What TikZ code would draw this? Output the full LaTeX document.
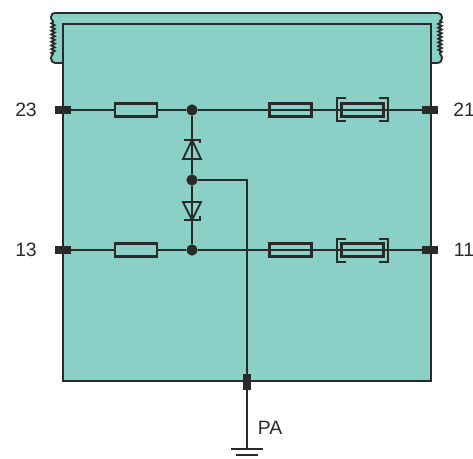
\documentclass[tikz,border=0pt]{standalone}
\usepackage{fontspec}
\setmainfont{Liberation Sans}
\usetikzlibrary{decorations.pathmorphing}
\definecolor{boxteal}{HTML}{8AD0C6}
\definecolor{wire}{HTML}{2A2A2A}
\tikzset{
	line/.style={draw=wire,line width=1.05pt},
	part/.style={draw=wire,line width=1.3pt,minimum width=0.84cm,minimum height=0.26cm,inner sep=0pt},
	term/.style={fill=wire,minimum width=0.32cm,minimum height=0.16cm,inner sep=0pt},
	junct/.style={circle,fill=wire,minimum size=0.225cm,inner sep=0pt},
	lab/.style={font=\fontsize{11pt}{12pt}\selectfont,text=wire,inner sep=0pt},
	coil/.style={decorate,decoration={snake,segment length=2.1pt,amplitude=1pt}}
}
\begin{document}
\begin{tikzpicture}[x=0.02cm,y=-0.02cm]
	\useasboundingbox (0,0) rectangle (473,459);
	
	% top band with the two coils
	\filldraw[line,fill=boxteal] (63,63) -- (56,63) .. controls (52,63) and (51,60) .. (51,58)
		.. controls (51,56) and (52,55) .. (53,54)
		decorate[coil] { -- (53,21) }
		.. controls (51,20) and (51,18) .. (51,17) .. controls (51,14) and (53,13) .. (55,13)
		-- (438,13) .. controls (440,13) and (442,15) .. (442,17) .. controls (442,18) and (442,20) .. (440,21)
		decorate[coil] { -- (440,54) }
		.. controls (441,55) and (442,56) .. (442,58) .. controls (442,60) and (441,63) .. (437,63)
		-- (431,63);
	
	% housing
	\filldraw[line,fill=boxteal] (63,24) rectangle (431,381);
	\draw[line,line width=1.5pt] (63,60) -- (63,80);
	\draw[line,line width=1.5pt] (431,58) -- (431,80);
	
	% terminals
	\node[term] (t23) at (63,110) {};
	\node[term] (t21) at (430,110) {};
	\node[term] (t13) at (63,250) {};
	\node[term] (t11) at (430,250) {};
	\node[term,minimum width=0.16cm,minimum height=0.32cm] (tpa) at (247,382) {};
	
	% junctions
	\node[junct] (j23) at (192,110) {};
	\node[junct] (jmid) at (192,180) {};
	\node[junct] (j13) at (192,250) {};
	
	% resistors and fuses
	\node[part] (r23) at (136,110) {};
	\node[part] (r13) at (136,250) {};
	\node[part] (f23) at (290.5,110) {};
	\node[part] (f13) at (290.5,250) {};
	\node[part] (g23) at (362.5,110) {};
	\node[part] (g13) at (362.5,250) {};
	
	% brackets
	\draw[line] (346,98) -- (337,98) -- (337,121) -- (346,121);
	\draw[line] (379,98) -- (388,98) -- (388,121) -- (379,121);
	\draw[line] (346,239) -- (337,239) -- (337,262) -- (346,262);
	\draw[line] (379,239) -- (388,239) -- (388,262) -- (379,262);
	
	% wires
	\draw[line] (t23) -- (r23) -- (j23) -- (t21);
	\draw[line] (t13) -- (r13) -- (j13) -- (t11);
	\draw[line] (j23) -- (jmid) -- (j13);
	\draw[line] (jmid) -| (tpa);
	
	% diodes
	\draw[line] (192,140) -- (183,159) -- (201,159) -- cycle;
	\draw[line] (184,140) -- (200,140) -- (200,143);
	\draw[line] (192,220) -- (183,202) -- (201,202) -- cycle;
	\draw[line] (184,220) -- (200,220) -- (200,216);
	
	% earth
	\coordinate (gnd) at (247,449);
	\draw[line] (tpa) -- (gnd);
	\draw[line] (231,449) -- (263,449);
	\draw[line] (236,455) -- (258,455);
	
	% labels
	\node[lab] (l23) at (26,110) {23};
	\node[lab] (l21) at (464,110) {21};
	\node[lab] (l13) at (26,250) {13};
	\node[lab] (l11) at (464,250) {11};
	\node[lab] (lpa) at (270,428) {PA};
\end{tikzpicture}
\end{document}
